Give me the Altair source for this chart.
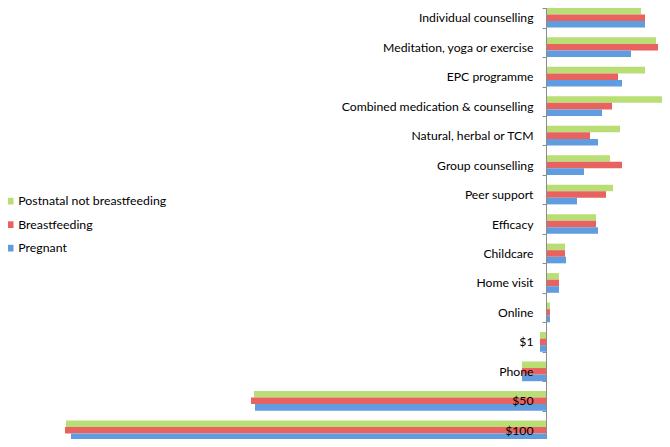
import altair as alt
import pandas as pd

categories = ["Individual counselling", "Meditation, yoga or exercise", "EPC programme",
              "Combined medication & counselling", "Natural, herbal or TCM", "Group counselling",
              "Peer support", "Efficacy", "Childcare", "Home visit", "Online", "$1", "Phone",
              "$50", "$100"]
series = ["Postnatal not breastfeeding", "Breastfeeding", "Pregnant"]
postnatal = [95, 110, 99, 120, 74, 64, 67, 50, 19, 13, 4, -6, -24, -292, -480]
breastfeeding = [99, 112, 72, 66, 44, 76, 60, 50, 19, 13, 4, -6, -24, -295, -481]
pregnant = [99, 85, 76, 56, 52, 38, 31, 52, 20, 13, 4, -6, -24, -291, -475]
colors = ["#bade76", "#e8625f", "#5f9de0"]

rows = []
for s, vals in zip(series, [postnatal, breastfeeding, pregnant]):
    for c, v in zip(categories, vals):
        rows.append({"category": c, "series": s, "value": v})
df = pd.DataFrame(rows)

chart = alt.Chart(df).mark_bar(height={"band": 1}).encode(
    x=alt.X("value:Q", scale=alt.Scale(domain=[-484, 122], nice=False, zero=False, range=[0, 606]),
            axis=None),
    y=alt.Y("category:N", sort=categories,
            scale=alt.Scale(paddingInner=0.33, paddingOuter=0.165, range=[-5, 437]),
            axis=alt.Axis(title=None, orient="left", offset=-484, tickBand="extent",
                          domainColor="#8c8c8c", tickColor="#8c8c8c", tickSize=4,
                          labelPadding=9, labelFont="Lato", labelFontSize=12.2, labelLimit=0,
                          labelColor="#000000", grid=False, zindex=1)),
    yOffset=alt.YOffset("series:N", sort=series,
                        scale=alt.Scale(paddingInner=0, paddingOuter=0)),
    color=alt.Color("series:N", sort=series,
                    scale=alt.Scale(domain=series, range=colors),
                    legend=alt.Legend(title=None, orient="none", legendX=-58, legendY=187,
                                      symbolType="square", symbolSize=45, symbolStrokeWidth=0,
                                      rowPadding=10.5, labelFont="Lato", labelFontSize=12.3,
                                      labelColor="#000000", labelOffset=2)),
).properties(
    width=600, height=431,
    padding={"left": 54, "top": 0, "right": 0, "bottom": 0},
    autosize=alt.AutoSizeParams(type="none"),
).configure_view(stroke=None)

chart.save("out.html", embed_options={"renderer": "svg", "actions": False})
